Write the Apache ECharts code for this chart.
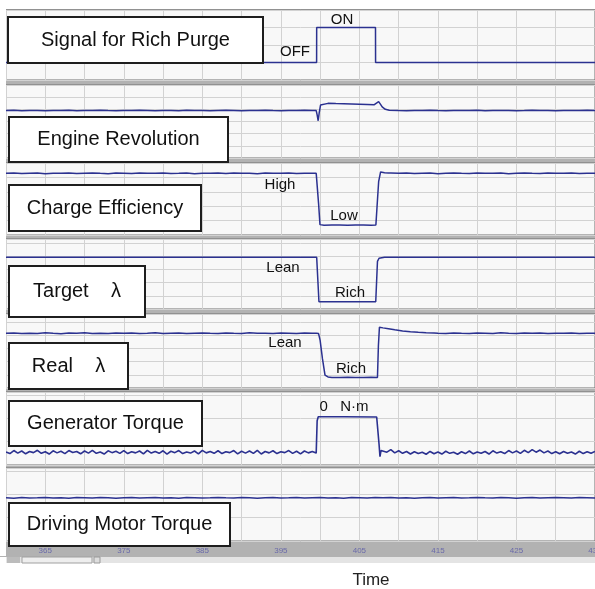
<!DOCTYPE html>
<html>
<head>
<meta charset="utf-8">
<script src="https://cdn.jsdelivr.net/npm/echarts@6/dist/echarts.min.js"></script>
<style>
  html, body { margin: 0; padding: 0; background: #fff; }
  #chart { width: 595px; height: 589px; }
</style>
</head>
<body>
<div id="chart"></div>
<script>
// ---- time axis ----
var timeMin = 360, timeMax = 435, timeStep = 5;
var tickLabels = [365, 375, 385, 395, 405, 415, 425, 435];

// ---- panel names ----
var panelNames = ['Signal for Rich Purge', 'Engine Revolution', 'Charge Efficiency',
  'Target    λ', 'Real    λ', 'Generator Torque', 'Driving Motor Torque'];

// ---- signal values ----
// rich purge signal: OFF = 1, ON = 3
var purgeT = [360, 399.55, 399.56, 407.05, 407.06, 435];
var purgeV = [1, 1, 3, 3, 1, 1];

// engine revolution
var revPre = [3.90,3.92,3.89,3.91,3.90,3.88,3.91,3.90,3.92,3.89,
  3.90,3.91,3.93,3.90,3.89,3.91,3.90,3.92,3.90,3.88,
  3.91,3.90,3.89,3.92,3.91,3.90,3.88,3.90,3.92,3.91,
  3.89,3.90,3.91,3.93,3.90,3.89,3.91,3.90,3.92,3.90];          // 360..399
var revEvent = [[399.5,3.90],[399.62,3.55],[399.75,3.06],[399.88,3.7],[400.05,4.35],[400.3,4.47],
  [401,4.49],[402,4.47],[403,4.46],[404,4.44],[405,4.42],[406,4.40],[406.9,4.38],[407.15,4.42],
  [407.45,4.63],[407.65,4.45],[407.9,4.2],[408.3,4.0],[408.8,3.92]];
var revPost = [3.91,3.90,3.89,3.91,3.90,3.92,3.90,3.89,3.91,3.90,
  3.90,3.92,3.89,3.91,3.90,3.91,3.89,3.90,3.92,3.90,
  3.91,3.89,3.90,3.91,3.90,3.92,3.90];                          // 409..435

// charge efficiency
var cePre = [4.28,4.30,4.27,4.29,4.31,4.26,4.29,4.28,4.30,4.27,
  4.29,4.31,4.28,4.26,4.30,4.29,4.27,4.30,4.28,4.29,
  4.31,4.27,4.28,4.30,4.26,4.29,4.28,4.30,4.27,4.31,
  4.29,4.28,4.26,4.30,4.29,4.28,4.31,4.27,4.29,4.28];
var ceEvent = [[399.5,4.28],[399.58,4.2],[399.8,2.2],[399.98,0.72],[400.5,0.68],[401.5,0.70],
  [402.5,0.69],[403.5,0.68],[404.5,0.70],[405.5,0.69],[406.5,0.68],[407.1,0.70],[407.25,2.0],
  [407.45,3.7],[407.7,4.38],[408.2,4.33],[408.7,4.30]];
var cePost = [4.30,4.28,4.31,4.27,4.29,4.30,4.26,4.29,4.31,4.28,
  4.27,4.30,4.29,4.28,4.31,4.26,4.29,4.30,4.28,4.27,
  4.31,4.29,4.28,4.30,4.27,4.29,4.28];

// target lambda
var targetLambda = [[360,3.92],[399.56,3.92],[399.85,0.55],[407.08,0.55],[407.3,3.6],
  [407.5,3.84],[408.2,3.92],[435,3.92]];

// real lambda
var rlPre = [4.14,4.17,4.12,4.15,4.13,4.18,4.14,4.11,4.16,4.14,
  4.19,4.13,4.15,4.12,4.17,4.14,4.16,4.13,4.15,4.18,
  4.12,4.14,4.16,4.13,4.15,4.17,4.14,4.12,4.16,4.14,
  4.13,4.18,4.15,4.14,4.12,4.16,4.15,4.13,4.17,4.14];
var rlEvent = [[399.5,4.15],[399.7,4.0],[399.8,4.12],[400.0,3.6],[400.3,2.2],[400.62,0.98],
  [401.0,0.84],[401.5,0.8],[402.5,0.79],[403.5,0.81],[404.5,0.8],[405.5,0.79],[406.5,0.81],
  [407.3,0.8],[407.42,3.2],[407.55,4.6],[408,4.55],[408.7,4.48],[409.5,4.4],[410.5,4.32],
  [411.5,4.26],[412.5,4.22],[413.5,4.19],[414.5,4.17]];
var rlPost = [4.15,4.13,4.17,4.14,4.12,4.16,4.15,4.13,4.18,4.14,
  4.12,4.16,4.14,4.17,4.13,4.15,4.14,4.16,4.12,4.15,4.14];   // 415..435

// generator torque (sampled every 0.5)
var gtPre = [0.56,0.49,0.62,0.51,0.60,0.48,0.58,0.53,0.63,0.50,0.57,0.47,0.61,0.52,0.59,0.49,0.62,0.54,0.58,0.48,
  0.60,0.51,0.63,0.50,0.56,0.47,0.61,0.53,0.59,0.50,0.62,0.49,0.57,0.52,0.60,0.48,0.63,0.51,0.58,0.50,
  0.61,0.47,0.59,0.53,0.62,0.49,0.56,0.51,0.60,0.48,0.63,0.52,0.58,0.50,0.61,0.49,0.57,0.53,0.62,0.48,
  0.59,0.51,0.60,0.50,0.63,0.47,0.58,0.52,0.61,0.49,0.57,0.53,0.62,0.50,0.59,0.48,0.60,0.52,0.58,0.51];
var gtEvent = [[399.56,0.58],[399.62,1.9],[399.76,2.07],[403,2.07],[407.2,2.06],[407.5,0.9],
  [407.62,0.36],[407.75,0.62]];
var gtPost = [0.64,0.55,0.66,0.52,0.61,0.50,0.58,0.47,0.57,0.49,0.55,0.46,0.58,0.48,0.56,0.47,0.59,0.50,0.55,0.46,
  0.57,0.49,0.60,0.48,0.56,0.50,0.58,0.47,0.61,0.51,0.57,0.49,0.62,0.52,0.60,0.50,0.63,0.53,0.66,0.55,
  0.64,0.52,0.60,0.49,0.57,0.48,0.58,0.50,0.56,0.47,0.59,0.49,0.57,0.50,0.58];

// driving motor torque
var dmAll = [1.85,1.83,1.86,1.84,1.85,1.87,1.84,1.85,1.83,1.86,1.85,1.84,1.86,1.85,1.83,1.85,1.87,1.84,1.85,1.86,
  1.84,1.85,1.83,1.86,1.85,1.84,1.85,1.87,1.85,1.84,1.86,1.85,1.83,1.85,1.86,1.84,1.85,1.87,1.84,1.85,
  1.86,1.84,1.85,1.83,1.86,1.85,1.84,1.86,1.85,1.87,1.84,1.85,1.83,1.85,1.86,1.84,1.85,1.86,1.84,1.85,
  1.87,1.85,1.84,1.86,1.85,1.83,1.85,1.86,1.84,1.85,1.86,1.85,1.84,1.86,1.85,1.84];

// state labels next to the traces
var stateLabels = ['OFF', 'ON', 'High', 'Low', 'Lean', 'Rich', 'Lean', 'Rich', '0   N·m'];

// ---- layout ----
var panelTops = [10, 85, 163, 239, 314, 392, 468];
var panelHeights = [70, 73, 72, 70, 74, 73, 73];
var panelYMax = [4, 6, 5, 5.3, 5.6, 3.13, 3.13];
var boxes = [[8,17,255,46],[9,117,219,45],[9,185,192,46],[9,266,136,51],[9,343,119,46],[9,401,193,45],[9,503,221,43]];
var labelPos = [[295,52],[342,20],[280,185],[344,216],[283,268],[350,293],[285,343],[351,369],[344,407]];
var lineColor = '#2b3190';

function seq(start, step, vals) {
  return vals.map(function (v, i) { return [+(start + i * step).toFixed(2), v]; });
}

var seriesData = [
  purgeT.map(function (t, i) { return [t, purgeV[i]]; }),
  seq(360, 1, revPre).concat(revEvent, seq(409, 1, revPost)),
  seq(360, 1, cePre).concat(ceEvent, seq(409, 1, cePost)),
  targetLambda,
  seq(360, 1, rlPre).concat(rlEvent, seq(415, 1, rlPost)),
  seq(360, 0.5, gtPre).concat(gtEvent, seq(408, 0.5, gtPost)),
  seq(360, 1, dmAll)
];

var grids = [], xAxes = [], yAxes = [], series = [];
panelNames.forEach(function (name, i) {
  grids.push({
    left: 6, right: 0, top: panelTops[i], height: panelHeights[i],
    containLabel: false, outerBoundsMode: 'none',
    show: true, backgroundColor: '#f8f8f8', borderColor: '#707070', borderWidth: 1
  });
  xAxes.push({
    type: 'value', gridIndex: i, min: timeMin, max: timeMax, interval: timeStep,
    axisLine: { show: false }, axisTick: { show: false },
    axisLabel: {
      show: i === panelNames.length - 1, margin: 6, fontSize: 8, color: '#6a6aaa',
      fontFamily: 'Arial', showMaxLabel: true,
      formatter: function (v) { return tickLabels.indexOf(v) >= 0 ? String(v) : ''; }
    },
    splitLine: { lineStyle: { color: '#d2d2d2', width: 1 } }
  });
  yAxes.push({
    type: 'value', gridIndex: i, min: 0, max: panelYMax[i], interval: 1,
    axisLine: { show: false }, axisTick: { show: false }, axisLabel: { show: false },
    splitLine: { lineStyle: { color: '#d2d2d2', width: 1 } }
  });
  series.push({
    name: name, type: 'line', xAxisIndex: i, yAxisIndex: i,
    data: seriesData[i], showSymbol: false, symbol: 'none',
    lineStyle: { color: lineColor, width: i === 5 ? 1.6 : 1.5 }
  });
});

var graphics = [
  // white margins and scrollbar strip
  { type: 'rect', shape: { x: 0, y: 0, width: 595, height: 9 }, style: { fill: '#fff' }, z: 50 },
  { type: 'rect', shape: { x: 0, y: 0, width: 6, height: 556 }, style: { fill: '#fff' }, z: 50 },
  { type: 'rect', shape: { x: 0, y: 557, width: 595, height: 32 }, style: { fill: '#fff' }, z: 50 },
  { type: 'rect', shape: { x: 6, y: 557, width: 589, height: 6 }, style: { fill: '#e4e4e4' }, z: 51 },
  { type: 'rect', shape: { x: 7, y: 557, width: 13, height: 6 }, style: { fill: '#bcbcbc' }, z: 52 },
  { type: 'rect', shape: { x: 22, y: 557, width: 70, height: 6 }, style: { fill: '#eeeeee', stroke: '#a0a0a0', lineWidth: 1 }, z: 52 },
  { type: 'rect', shape: { x: 94, y: 557, width: 6, height: 6 }, style: { fill: '#dddddd', stroke: '#999', lineWidth: 1 }, z: 52 },
  { type: 'text', x: 371, y: 580, style: { text: 'Time', font: '17px Arial', fill: '#222', textAlign: 'center', textVerticalAlign: 'middle' }, z: 60 }
];
boxes.forEach(function (b, i) {
  graphics.push({ type: 'rect', shape: { x: b[0], y: b[1], width: b[2], height: b[3] },
    style: { fill: '#fff', stroke: '#1e1e1e', lineWidth: 2 }, z: 70 });
  graphics.push({ type: 'text', x: b[0] + b[2] / 2, y: b[1] + b[3] / 2,
    style: { text: panelNames[i], font: '20px Arial', fill: '#111', textAlign: 'center', textVerticalAlign: 'middle' }, z: 71 });
});
stateLabels.forEach(function (s, i) {
  graphics.push({ type: 'text', x: labelPos[i][0], y: labelPos[i][1],
    style: { text: s, font: '15px Arial', fill: '#111', textAlign: 'center', textVerticalAlign: 'middle' }, z: 71 });
});

var chart = echarts.init(document.getElementById('chart'));
chart.setOption({
  animation: false,
  backgroundColor: '#b2b2b2',
  grid: grids,
  xAxis: xAxes,
  yAxis: yAxes,
  series: series,
  graphic: graphics
});
</script>
</body>
</html>
